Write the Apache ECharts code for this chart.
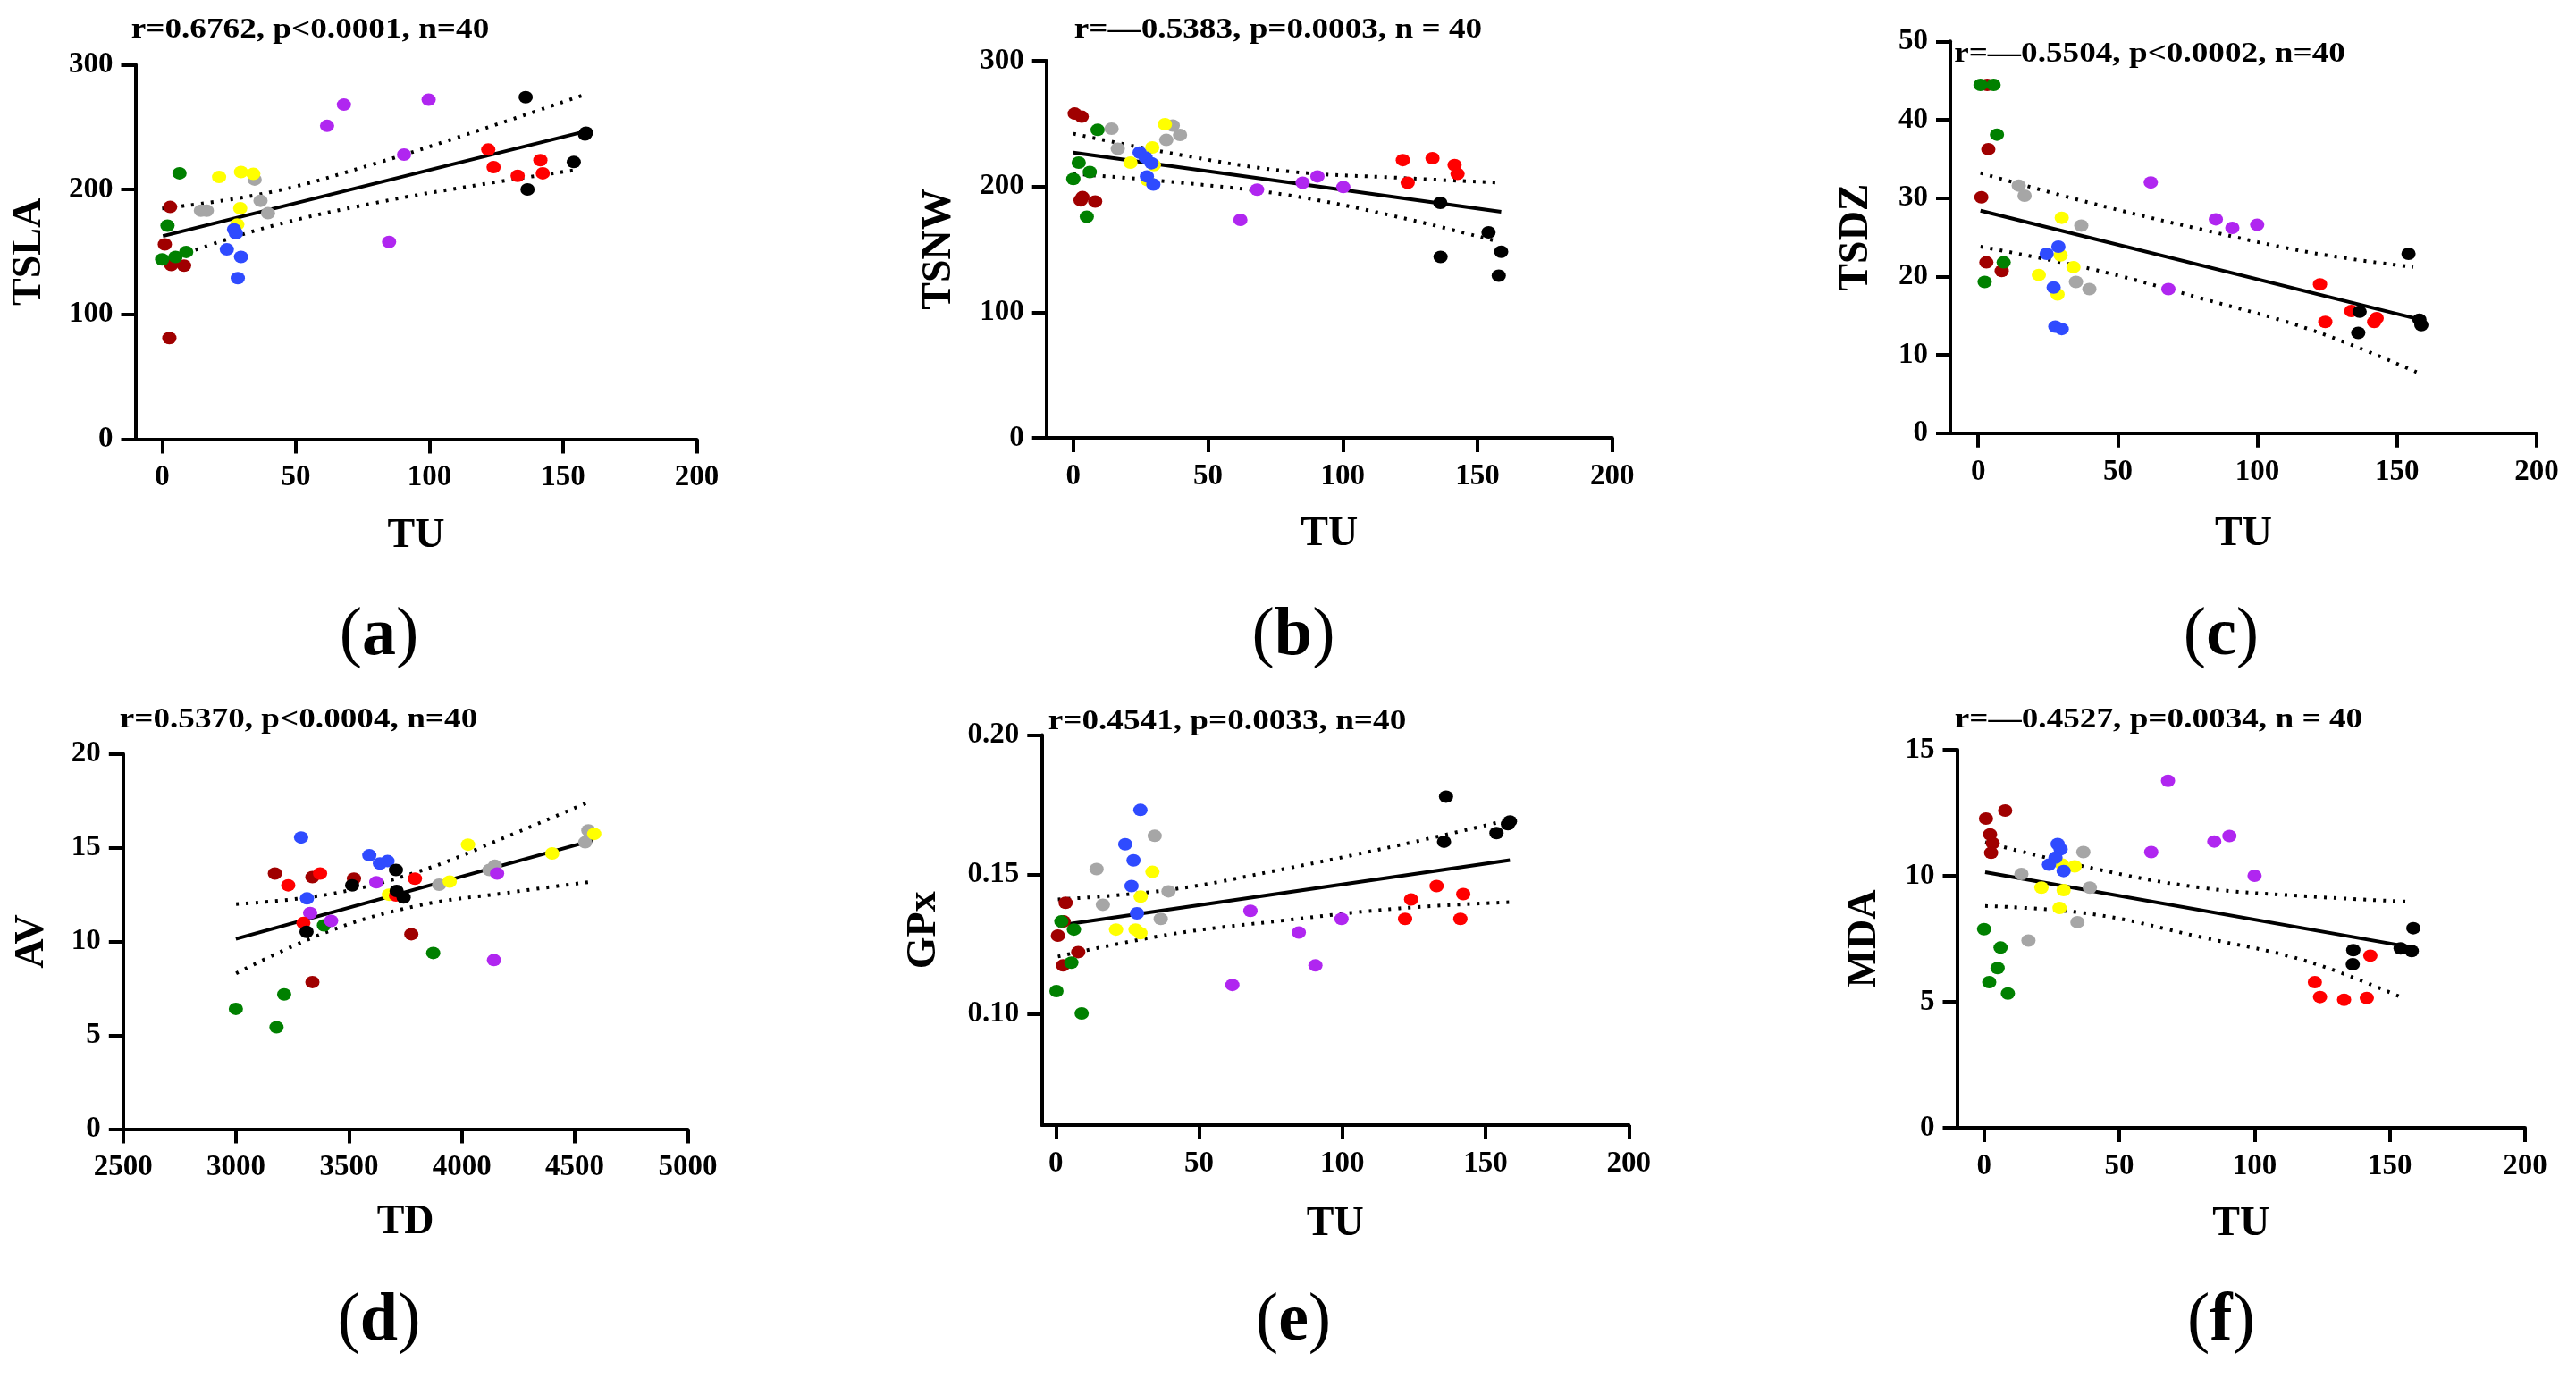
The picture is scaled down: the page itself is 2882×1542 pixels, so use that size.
<!DOCTYPE html>
<html>
<head>
<meta charset="utf-8">
<script src="https://cdn.jsdelivr.net/npm/echarts@6.0.0/dist/echarts.min.js"></script>
<style>
  html, body { margin: 0; padding: 0; background: #fff; }
  #main { width: 2882px; height: 1542px; }
</style>
</head>
<body>
<div id="main"></div>
<script>
// group colours (sampling sites), index used as 3rd value of each row
const groupColors = ['#a00000', '#008000', '#a6a6a6', '#ffff00', '#2f4bff', '#b026f0', '#ff0000', '#000000'];

// (a) TU vs TSLA  [x, y, group]
const ptsA = [
  [3, 186, 0], [1, 156, 0], [3.4, 139.5, 0], [8.2, 139, 0], [2.7, 81, 0],
  [6.5, 213, 1], [2, 171, 1], [0, 144, 1], [5, 146, 1], [9, 150, 1],
  [14.5, 183, 2], [16.7, 183, 2], [34.6, 208, 2], [36.8, 191, 2], [39.6, 181, 2],
  [21.3, 210, 3], [29.5, 214, 3], [34.1, 212.5, 3], [29.2, 185, 3], [28.1, 172, 3],
  [26.9, 168, 4], [27.6, 165, 4], [24.2, 152, 4], [29.5, 146, 4], [28.3, 129, 4],
  [61.7, 251, 5], [68, 268, 5], [99.7, 272, 5], [90.5, 228, 5], [84.9, 158, 5],
  [122, 232, 6], [124, 218, 6], [133, 211, 6], [141.5, 223.5, 6], [142.4, 213, 6],
  [136, 274, 7], [136.7, 200, 7], [154, 222, 7], [158.2, 244, 7], [158.6, 245.5, 7]
];
const fitA = [[0.3, 162.7], [158.2, 246.5]];
const hiA = [[0, 184.8], [40, 197.6], [80, 221], [120, 248.5], [158, 276]];
const loA = [[9, 149], [40, 170.2], [80, 189.4], [120, 204.3], [156, 216]];

// (b) TU vs TSNW
const ptsB = [
  [0.5, 258, 0], [3.1, 255.5, 0], [3.4, 191.5, 0], [2.7, 189, 0], [8.1, 188, 0],
  [9, 245, 1], [2, 219, 1], [0, 206, 1], [6.1, 211.5, 1], [5, 176, 1],
  [14.2, 246, 2], [16.5, 230, 2], [36.9, 248.5, 2], [34.5, 237, 2], [39.6, 241, 2],
  [34, 249.5, 3], [29.3, 231, 3], [21.2, 219, 3], [29.9, 217, 3], [27.5, 205, 3],
  [24.6, 227, 4], [26.8, 223, 4], [29, 218.5, 4], [27.3, 208, 4], [29.7, 201.5, 4],
  [62, 173.5, 5], [68.2, 197.5, 5], [85.1, 203, 5], [90.6, 208, 5], [100.2, 199.5, 5],
  [122.3, 221, 6], [124.1, 203, 6], [133.3, 222.5, 6], [141.5, 217, 6], [142.6, 210, 6],
  [136.2, 187, 7], [136.3, 144, 7], [154.1, 163.5, 7], [158.8, 148, 7], [157.9, 129, 7]
];
const fitB = [[0, 227], [158.8, 179.8]];
const hiB = [[0, 242], [40, 225], [80, 212], [120, 207], [158, 203]];
const loB = [[0, 210], [40, 203], [80, 193], [120, 176], [158, 156]];

// (c) TU vs TSDZ
const ptsC = [
  [3.2, 44.45, 0], [3.6, 36.25, 0], [1.1, 30.1, 0], [2.9, 21.8, 0], [8.4, 20.7, 0],
  [0.8, 44.45, 1], [5.5, 44.45, 1], [6.7, 38.1, 1], [9.1, 21.8, 1], [2.3, 19.3, 1],
  [14.5, 31.6, 2], [16.6, 30.3, 2], [36.9, 26.5, 2], [35, 19.3, 2], [39.8, 18.4, 2],
  [29.9, 27.5, 3], [29.5, 22.7, 3], [34.1, 21.2, 3], [21.7, 20.2, 3], [28.4, 17.7, 3],
  [24.5, 22.9, 4], [28.7, 23.8, 4], [27, 18.6, 4], [27.6, 13.6, 4], [29.9, 13.3, 4],
  [61.8, 32, 5], [85.1, 27.3, 5], [91, 26.2, 5], [99.9, 26.6, 5], [68.1, 18.4, 5],
  [122.4, 19, 6], [124.3, 14.2, 6], [133.6, 15.6, 6], [141.8, 14.2, 6], [142.7, 14.7, 6],
  [154.1, 22.9, 7], [136.6, 15.5, 7], [136.1, 12.8, 7], [158, 14.5, 7], [158.7, 13.8, 7]
];
const fitC = [[0.8, 28.4], [158.3, 14.5]];
const hiC = [[0.8, 33.2], [40, 29.4], [80, 26], [120, 23], [155.8, 21.2]];
const loC = [[0.8, 23.8], [40, 21], [80, 17.2], [120, 13.1], [157, 7.8]];

// (d) TD vs AV
const ptsD = [
  [3172, 13.63, 0], [3338, 13.44, 0], [3522, 13.35, 0], [3776, 10.39, 0], [3338, 7.84, 0],
  [3389, 10.86, 1], [3873, 9.39, 1], [3213, 7.18, 1], [2999, 6.41, 1], [3179, 5.43, 1],
  [4560, 15.93, 2], [4546, 15.29, 2], [4146, 14.04, 2], [4122, 13.82, 2], [3899, 13.03, 2],
  [4027, 15.17, 3], [4400, 14.7, 3], [4586, 15.74, 3], [3946, 13.2, 3], [3677, 12.5, 3],
  [3288, 15.55, 4], [3590, 14.6, 4], [3637, 14.16, 4], [3671, 14.29, 4], [3314, 12.3, 4],
  [3621, 13.16, 5], [3328, 11.52, 5], [3421, 11.1, 5], [4156, 13.63, 5], [4142, 9.01, 5],
  [3231, 13.0, 6], [3372, 13.63, 6], [3792, 13.35, 6], [3708, 12.46, 6], [3298, 10.99, 6],
  [3708, 13.82, 7], [3514, 13.0, 7], [3742, 12.35, 7], [3312, 10.52, 7], [3711, 12.7, 7]
];
const fitD = [[2999, 10.14], [4580, 15.4]];
const hiD = [[3000, 12.0], [3400, 12.5], [3800, 13.7], [4200, 15.6], [4572, 17.5]];
const loD = [[3000, 8.3], [3400, 10.5], [3800, 11.9], [4200, 12.6], [4580, 13.2]];

// (e) TU vs GPx
const ptsE = [
  [3.4, 0.1398, 0], [2.7, 0.1331, 0], [0.7, 0.128, 0], [7.8, 0.1221, 0], [2.5, 0.1173, 0],
  [1.9, 0.1331, 1], [6.3, 0.1302, 1], [5.4, 0.1183, 1], [0.2, 0.1081, 1], [9, 0.1001, 1],
  [14.2, 0.1519, 2], [16.4, 0.1391, 2], [34.5, 0.1638, 2], [39.3, 0.1439, 2], [36.6, 0.134, 2],
  [33.7, 0.1509, 3], [29.6, 0.142, 3], [21, 0.1302, 3], [27.8, 0.1302, 3], [29.5, 0.1289, 3],
  [29.5, 0.1731, 4], [24.2, 0.1608, 4], [27.1, 0.155, 4], [26.4, 0.1458, 4], [28.3, 0.136, 4],
  [67.9, 0.1369, 5], [84.8, 0.1291, 5], [99.7, 0.134, 5], [90.6, 0.1173, 5], [61.6, 0.1103, 5],
  [132.9, 0.1458, 6], [124, 0.141, 6], [142.2, 0.1429, 6], [121.9, 0.134, 6], [141.2, 0.134, 6],
  [136.2, 0.1779, 7], [135.5, 0.1617, 7], [153.8, 0.1648, 7], [157.8, 0.168, 7], [158.5, 0.169, 7]
];
const fitE = [[0.7, 0.1316], [158.5, 0.1551]];
const hiE = [[0.7, 0.141], [40, 0.1445], [80, 0.152], [120, 0.1605], [158, 0.1695]];
const loE = [[0.7, 0.1205], [40, 0.1285], [80, 0.1335], [120, 0.1378], [158.5, 0.140]];

// (f) TU vs MDA
const ptsF = [
  [0.7, 12.27, 0], [7.8, 12.59, 0], [2.2, 11.64, 0], [3.2, 11.29, 0], [2.6, 10.91, 0],
  [0, 7.88, 1], [6.1, 7.15, 1], [5, 6.34, 1], [1.9, 5.78, 1], [8.8, 5.33, 1],
  [13.8, 10.07, 2], [36.7, 10.94, 2], [39.1, 9.53, 2], [34.5, 8.16, 2], [16.4, 7.43, 2],
  [28.9, 10.44, 3], [33.5, 10.37, 3], [21.2, 9.53, 3], [29.4, 9.43, 3], [27.9, 8.72, 3],
  [27.2, 11.26, 4], [28.3, 11.05, 4], [26.4, 10.72, 4], [24, 10.44, 4], [29.4, 10.19, 4],
  [68, 13.77, 5], [90.7, 11.58, 5], [85.1, 11.36, 5], [61.8, 10.94, 5], [100, 10.0, 5],
  [122.3, 5.78, 6], [124.2, 5.19, 6], [133.1, 5.08, 6], [141.5, 5.15, 6], [142.8, 6.83, 6],
  [158.7, 7.92, 7], [154, 7.12, 7], [158.1, 7.01, 7], [136.5, 7.05, 7], [136.3, 6.49, 7]
];
const fitF = [[0.4, 10.14], [158.7, 7.15]];
const hiF = [[0.4, 11.33], [40, 10.3], [80, 9.53], [120, 9.18], [157.7, 8.97]];
const loF = [[0.4, 8.8], [40, 8.48], [80, 7.57], [120, 6.59], [155.5, 5.12]];

const tuTicks = [0, 50, 100, 150, 200];
const gpxTicks = [0.10, 0.15, 0.20];

const FONT = '"Liberation Serif", "Times New Roman", serif';

const panels = [
  { pts: ptsA, fit: fitA, hi: hiA, lo: loA, xName: 'TU', yName: 'TSLA',
    grid: [151.5, 72.4, 628, 419], xMin: -10, xMax: 200, xTicks: tuTicks,
    yMin: 0, yMax: 300, yInt: 100, yGap: 95, xGap: 86,
    title: 'r=0.6762, p<0.0001, n=40', tx: 347, ty: 34, tag: 'a', lx: 424, ly: 712 },
  { pts: ptsB, fit: fitB, hi: hiB, lo: loB, xName: 'TU', yName: 'TSNW',
    grid: [1170.7, 68, 633, 422], xMin: -10, xMax: 200, xTicks: tuTicks,
    yMin: 0, yMax: 300, yInt: 100, yGap: 97, xGap: 85,
    title: 'r=\u20140.5383, p=0.0003, n = 40', tx: 1430, ty: 34, tag: 'b', lx: 1447, ly: 712 },
  { pts: ptsC, fit: fitC, hi: hiC, lo: loC, xName: 'TU', yName: 'TSDZ',
    grid: [2182, 46.3, 656, 438.5], xMin: -10, xMax: 200, xTicks: tuTicks,
    yMin: 0, yMax: 50, yInt: 10, yGap: 82, xGap: 90,
    title: 'r=\u20140.5504, p<0.0002, n=40', tx: 2405, ty: 61, tag: 'c', lx: 2485, ly: 712 },
  { pts: ptsD, fit: fitD, hi: hiD, lo: loD, xName: 'TD', yName: 'AV',
    grid: [137.8, 843.8, 631.6, 419.6], xMin: 2500, xMax: 5000, xInt: 500,
    yMin: 0, yMax: 20, yInt: 5, yGap: 79, xGap: 82,
    title: 'r=0.5370, p<0.0004, n=40', tx: 334, ty: 806, tag: 'd', lx: 424, ly: 1479 },
  { pts: ptsE, fit: fitE, hi: hiE, lo: loE, xName: 'TU', yName: 'GPx',
    grid: [1165.3, 822.5, 657, 436.5], xMin: -5, xMax: 200, xTicks: tuTicks,
    yMin: 0.06, yMax: 0.20, yTicks: gpxTicks, yGap: 108, xGap: 88,
    title: 'r=0.4541, p=0.0033, n=40', tx: 1373, ty: 808, tag: 'e', lx: 1447, ly: 1479 },
  { pts: ptsF, fit: fitF, hi: hiF, lo: loF, xName: 'TU', yName: 'MDA',
    grid: [2189.5, 839, 635.5, 423], xMin: -10, xMax: 200, xTicks: tuTicks,
    yMin: 0, yMax: 15, yInt: 5, yGap: 80, xGap: 85,
    title: 'r=\u20140.4527, p=0.0034, n = 40', tx: 2415, ty: 806, tag: 'f', lx: 2485, ly: 1479 }
];

const axisLine = { onZero: false, lineStyle: { color: '#000', width: 4 } };
const labelStyle = { color: '#000', fontFamily: FONT, fontWeight: 'bold', fontSize: 33 };
const nameStyle = { color: '#000', fontFamily: FONT, fontWeight: 'bold', fontSize: 46 };

const grid = [], xAxis = [], yAxis = [], series = [], graphic = [];

panels.forEach((p, i) => {
  grid.push({ left: p.grid[0], top: p.grid[1], width: p.grid[2], height: p.grid[3] });

  const xa = {
    gridIndex: i, type: 'value', min: p.xMin, max: p.xMax,
    axisLine: axisLine,
    axisTick: { show: true, length: 16, lineStyle: { color: '#000', width: 4 } },
    axisLabel: Object.assign({ margin: 27, formatter: v => String(v) }, labelStyle),
    splitLine: { show: false },
    name: p.xName, nameLocation: 'middle', nameGap: p.xGap, nameTextStyle: nameStyle
  };
  if (p.xTicks) {
    xa.axisTick.customValues = p.xTicks;
    xa.axisLabel.customValues = p.xTicks;
  } else {
    xa.interval = p.xInt;
  }
  xAxis.push(xa);

  const ya = {
    gridIndex: i, type: 'value', min: p.yMin, max: p.yMax,
    axisLine: axisLine,
    axisTick: { show: true, length: 16, lineStyle: { color: '#000', width: 4 } },
    axisLabel: Object.assign({ margin: 25, formatter: v => String(v) }, labelStyle),
    splitLine: { show: false },
    name: p.yName, nameLocation: 'middle', nameRotate: 90, nameGap: p.yGap, nameTextStyle: nameStyle
  };
  if (p.yTicks) {
    ya.axisTick.customValues = p.yTicks;
    ya.axisLabel.customValues = p.yTicks;
    ya.axisLabel.formatter = v => v.toFixed(2);
  } else {
    ya.interval = p.yInt;
  }
  yAxis.push(ya);

  // regression line and confidence band
  series.push({
    type: 'line', xAxisIndex: i, yAxisIndex: i, data: p.fit, showSymbol: false, z: 2,
    lineStyle: { color: '#000', width: 4 }
  });
  [p.hi, p.lo].forEach(b => {
    series.push({
      type: 'line', xAxisIndex: i, yAxisIndex: i, data: b, showSymbol: false, smooth: 0.4, z: 2,
      lineStyle: { color: '#000', width: 4, type: [3, 8] }
    });
  });

  // points, one series per group
  groupColors.forEach((c, g) => {
    series.push({
      type: 'scatter', xAxisIndex: i, yAxisIndex: i, symbolSize: [16, 14], z: 3,
      itemStyle: { color: c, opacity: 1 },
      data: p.pts.filter(r => r[2] === g).map(r => [r[0], r[1]])
    });
  });

  graphic.push({
    type: 'text', x: p.tx, y: p.ty, scaleX: 1.2,
    style: {
      text: p.title, fill: '#000', font: 'bold 31px ' + FONT,
      textAlign: 'center', textVerticalAlign: 'middle', align: 'center', verticalAlign: 'middle'
    }
  });
  graphic.push({
    type: 'text', x: p.lx, y: p.ly,
    style: {
      text: '{p|(}{b|' + p.tag + '}{p|)}', fill: '#000',
      textAlign: 'center', textVerticalAlign: 'middle', align: 'center', verticalAlign: 'middle',
      rich: {
        p: { font: '76px ' + FONT, fill: '#000' },
        b: { font: 'bold 76px ' + FONT, fill: '#000' }
      }
    }
  });
});

const chart = echarts.init(document.getElementById('main'), null, { renderer: 'canvas' });
chart.setOption({
  animation: false,
  backgroundColor: '#fff',
  grid: grid,
  xAxis: xAxis,
  yAxis: yAxis,
  series: series,
  graphic: graphic
});
</script>
</body>
</html>
